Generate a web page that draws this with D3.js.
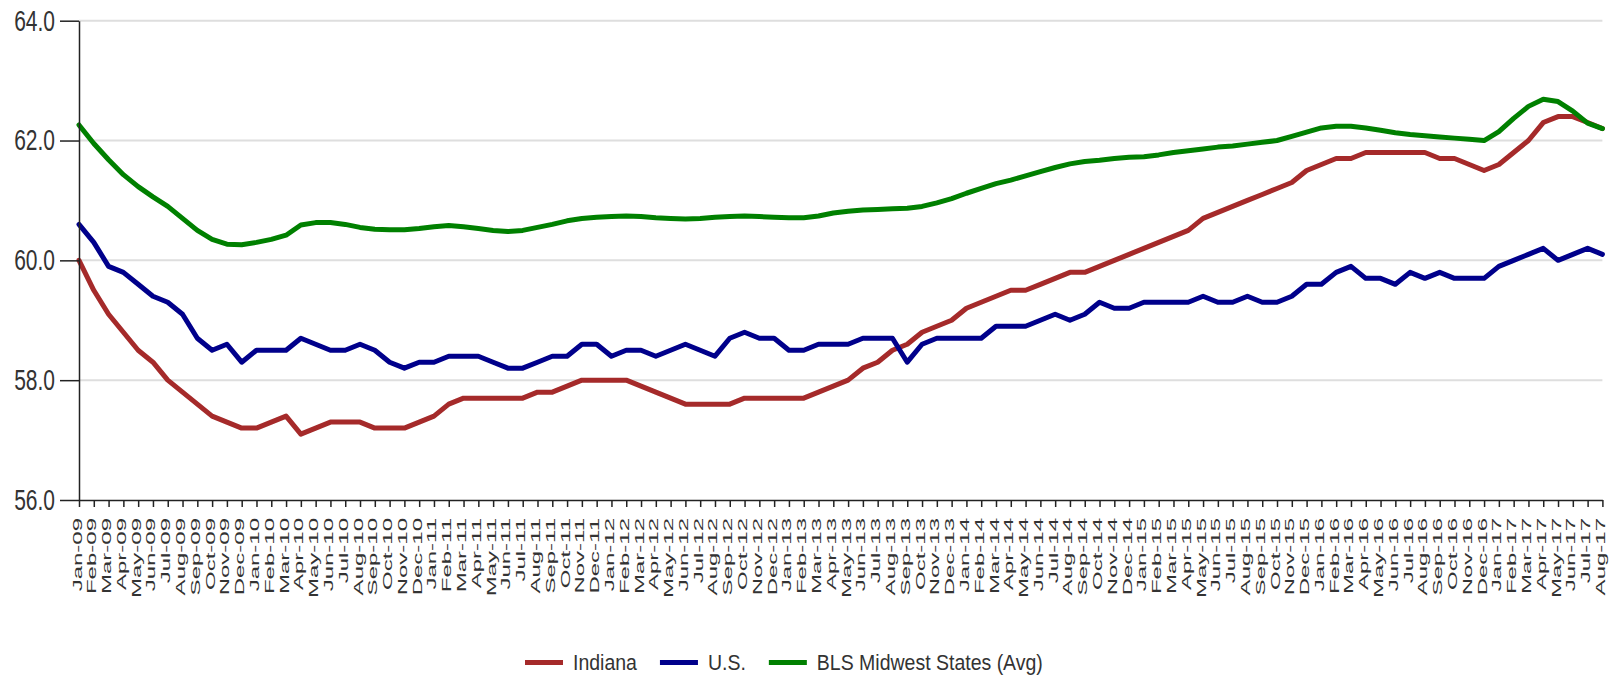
<!DOCTYPE html>
<html>
<head>
<meta charset="utf-8">
<script src="https://cdn.jsdelivr.net/npm/d3@7"></script>
<style>
  body { margin: 0; background: #fff; }
  svg { display: block; font-family: Arial, "Liberation Sans", sans-serif; }
  .grid line { stroke: #dedede; stroke-width: 2; }
  .axis path, .axis line { stroke: #222; stroke-width: 1.5; }
  .axis text { fill: #333; }
  .legend text { fill: #333; }
</style>
</head>
<body>
<div id="chart"></div>
<script>
var months = [
  "Jan-09","Feb-09","Mar-09","Apr-09","May-09","Jun-09","Jul-09","Aug-09","Sep-09","Oct-09","Nov-09","Dec-09",
  "Jan-10","Feb-10","Mar-10","Apr-10","May-10","Jun-10","Jul-10","Aug-10","Sep-10","Oct-10","Nov-10","Dec-10",
  "Jan-11","Feb-11","Mar-11","Apr-11","May-11","Jun-11","Jul-11","Aug-11","Sep-11","Oct-11","Nov-11","Dec-11",
  "Jan-12","Feb-12","Mar-12","Apr-12","May-12","Jun-12","Jul-12","Aug-12","Sep-12","Oct-12","Nov-12","Dec-12",
  "Jan-13","Feb-13","Mar-13","Apr-13","May-13","Jun-13","Jul-13","Aug-13","Sep-13","Oct-13","Nov-13","Dec-13",
  "Jan-14","Feb-14","Mar-14","Apr-14","May-14","Jun-14","Jul-14","Aug-14","Sep-14","Oct-14","Nov-14","Dec-14",
  "Jan-15","Feb-15","Mar-15","Apr-15","May-15","Jun-15","Jul-15","Aug-15","Sep-15","Oct-15","Nov-15","Dec-15",
  "Jan-16","Feb-16","Mar-16","Apr-16","May-16","Jun-16","Jul-16","Aug-16","Sep-16","Oct-16","Nov-16","Dec-16",
  "Jan-17","Feb-17","Mar-17","Apr-17","May-17","Jun-17","Jul-17","Aug-17"
];

var indiana = [
  60.0, 59.5, 59.1, 58.8, 58.5, 58.3, 58.0, 57.8, 57.6, 57.4, 57.3, 57.2,
  57.2, 57.3, 57.4, 57.1, 57.2, 57.3, 57.3, 57.3, 57.2, 57.2, 57.2, 57.3,
  57.4, 57.6, 57.7, 57.7, 57.7, 57.7, 57.7, 57.8, 57.8, 57.9, 58.0, 58.0,
  58.0, 58.0, 57.9, 57.8, 57.7, 57.6, 57.6, 57.6, 57.6, 57.7, 57.7, 57.7,
  57.7, 57.7, 57.8, 57.9, 58.0, 58.2, 58.3, 58.5, 58.6, 58.8, 58.9, 59.0,
  59.2, 59.3, 59.4, 59.5, 59.5, 59.6, 59.7, 59.8, 59.8, 59.9, 60.0, 60.1,
  60.2, 60.3, 60.4, 60.5, 60.7, 60.8, 60.9, 61.0, 61.1, 61.2, 61.3, 61.5,
  61.6, 61.7, 61.7, 61.8, 61.8, 61.8, 61.8, 61.8, 61.7, 61.7, 61.6, 61.5,
  61.6, 61.8, 62.0, 62.3, 62.4, 62.4, 62.3, 62.2
];

var us = [
  60.6, 60.3, 59.9, 59.8, 59.6, 59.4, 59.3, 59.1, 58.7, 58.5, 58.6, 58.3,
  58.5, 58.5, 58.5, 58.7, 58.6, 58.5, 58.5, 58.6, 58.5, 58.3, 58.2, 58.3,
  58.3, 58.4, 58.4, 58.4, 58.3, 58.2, 58.2, 58.3, 58.4, 58.4, 58.6, 58.6,
  58.4, 58.5, 58.5, 58.4, 58.5, 58.6, 58.5, 58.4, 58.7, 58.8, 58.7, 58.7,
  58.5, 58.5, 58.6, 58.6, 58.6, 58.7, 58.7, 58.7, 58.3, 58.6, 58.7, 58.7,
  58.7, 58.7, 58.9, 58.9, 58.9, 59.0, 59.1, 59.0, 59.1, 59.3, 59.2, 59.2,
  59.3, 59.3, 59.3, 59.3, 59.4, 59.3, 59.3, 59.4, 59.3, 59.3, 59.4, 59.6,
  59.6, 59.8, 59.9, 59.7, 59.7, 59.6, 59.8, 59.7, 59.8, 59.7, 59.7, 59.7,
  59.9, 60.0, 60.1, 60.2, 60.0, 60.1, 60.2, 60.1
];

var midwest = [
  62.26, 61.95, 61.68, 61.43, 61.23, 61.06, 60.90, 60.70, 60.50, 60.35, 60.27, 60.26,
  60.30, 60.35, 60.42, 60.59, 60.63, 60.63, 60.60, 60.55, 60.52, 60.51, 60.51, 60.53,
  60.56, 60.58, 60.56, 60.53, 60.50, 60.48, 60.50, 60.55, 60.60, 60.66, 60.70, 60.72,
  60.73, 60.74, 60.73, 60.71, 60.70, 60.69, 60.70, 60.72, 60.73, 60.74, 60.73, 60.72,
  60.71, 60.71, 60.74, 60.79, 60.82, 60.84, 60.85, 60.86, 60.87, 60.90, 60.96, 61.03,
  61.12, 61.20, 61.28, 61.34, 61.41, 61.48, 61.55, 61.61, 61.65, 61.67, 61.70, 61.72,
  61.73, 61.76, 61.80, 61.83, 61.86, 61.89, 61.91, 61.94, 61.97, 62.00, 62.07, 62.14,
  62.21, 62.24, 62.24, 62.21, 62.17, 62.13, 62.10, 62.08, 62.06, 62.04, 62.02, 62.00,
  62.15, 62.37, 62.57, 62.69, 62.65, 62.49, 62.29, 62.20
];

var yTicks = [56, 58, 60, 62, 64];

var seriesNames = ["Indiana", "U.S.", "BLS Midwest States (Avg)"];
var seriesColors = ["#a52a2a", "#00008b", "#008000"];

var width = 1612, height = 677;
var margin = { top: 20.7, right: 9.6, bottom: 177, left: 79 };

var svg = d3.select("#chart").append("svg")
    .attr("width", width)
    .attr("height", height);

var x = d3.scalePoint()
    .domain(months)
    .range([margin.left, width - margin.right]);

var y = d3.scaleLinear()
    .domain([56, 64])
    .range([height - margin.bottom, margin.top]);

// grid
svg.append("g")
    .attr("class", "grid")
    .selectAll("line")
    .data(yTicks.slice(1))
    .enter().append("line")
    .attr("x1", margin.left)
    .attr("x2", width - margin.right)
    .attr("y1", function(d) { return y(d); })
    .attr("y2", function(d) { return y(d); });

// lines
var series = [indiana, us, midwest];
var line = d3.line()
    .x(function(d, i) { return x(months[i]); })
    .y(function(d) { return y(d); });

svg.append("g").selectAll("path")
    .data(series)
    .enter().append("path")
    .attr("fill", "none")
    .attr("stroke", function(d, i) { return seriesColors[i]; })
    .attr("stroke-width", 5)
    .attr("stroke-linejoin", "round")
    .attr("stroke-linecap", "round")
    .attr("d", line);

// axes
var yAxis = d3.axisLeft(y)
    .tickValues(yTicks)
    .tickFormat(d3.format(".1f"))
    .tickSize(19)
    .tickSizeOuter(0)
    .tickPadding(5);

svg.append("g")
    .attr("class", "axis y-axis")
    .attr("transform", "translate(" + margin.left + ",0)")
    .call(yAxis)
    .selectAll("text")
    .style("font-size", "21px")
    .attr("transform", "scale(1,1.4)");

var xAxis = d3.axisBottom(x)
    .tickSize(7)
    .tickSizeOuter(0);

svg.append("g")
    .attr("class", "axis x-axis")
    .attr("transform", "translate(0," + y(56) + ")")
    .call(xAxis)
    .selectAll("text")
    .style("font-size", "12px")
    .attr("text-anchor", "end")
    .attr("x", 0)
    .attr("y", 0)
    .attr("dy", "0.25em")
    .attr("transform", "translate(-1,18) rotate(-90) scale(2,1)");

svg.selectAll(".axis .domain").attr("stroke", "#222");

// legend
var legend = svg.append("g").attr("class", "legend");
var lx = 525;
seriesNames.forEach(function(name, i) {
    legend.append("rect")
        .attr("x", lx)
        .attr("y", 660)
        .attr("width", 38)
        .attr("height", 5)
        .attr("fill", seriesColors[i]);
    var t = legend.append("text")
        .attr("x", lx + 48)
        .attr("y", 0)
        .attr("transform", "translate(0,670) scale(1,1.15)")
        .style("font-size", "19.5px")
        .text(name);
    lx = lx + 48 + t.node().getComputedTextLength() + 23;
});
</script>
</body>
</html>
